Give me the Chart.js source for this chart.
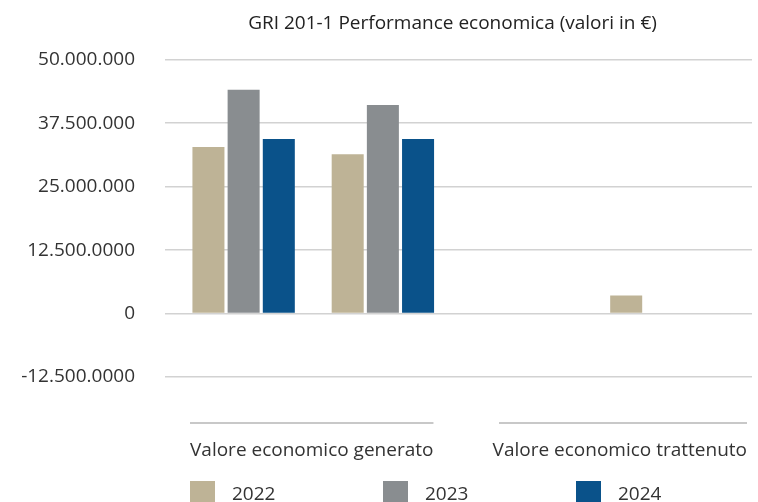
<!DOCTYPE html>
<html>
<head>
<meta charset="utf-8">
<script src="https://cdn.jsdelivr.net/npm/chart.js@4"></script>
<style>
  html, body { margin: 0; padding: 0; background: #fff; overflow: hidden; }
  #wrap { position: relative; width: 758px; height: 502px; }
  #chartBox { position: absolute; left: 0; top: 0; width: 758px; height: 502px; }
  #legend { position: absolute; left: 190px; top: 480px; margin: 0; padding: 0; list-style: none; display: flex; }
  #legend li { width: 193px; display: flex; align-items: center; font-family: 'Open Sans', sans-serif; font-size: 19px; color: #333; }
  #legend .box { display: inline-block; width: 25px; height: 25px; margin-right: 17px; }
</style>
</head>
<body>
<div id="wrap">
  <div id="chartBox"><canvas id="myChart"></canvas></div>
  <ul id="legend"></ul>
</div>
<script>
const categories = ['Valore economico generato', 'Valore economico distribuito', '', 'Valore economico trattenuto'];
const groupLabels = ['Valore economico generato', 'Valore economico trattenuto'];
const years = ['2022', '2023', '2024'];
const values2022 = [32800000, 31400000, null, 3560000];
const values2023 = [44100000, 41100000, null, null];
const values2024 = [34400000, 34400000, null, null];
const yTickValues = [50000000, 37500000, 25000000, 12500000, 0, -12500000];
const yTickLabels = ['50.000.000', '37.500.000', '25.000.000', '12.500.0000', '0', '-12.500.0000'];
const colors = ['#BEB396', '#898D90', '#0A528A'];

const gridColor = '#d2d2d2';
const labelFont = { family: "'Open Sans', sans-serif", size: 19 };

// grey line over each group label
const groupUnderline = {
  id: 'groupUnderline',
  afterDraw(chart) {
    const s = chart.scales.xGroups;
    const ctx = chart.ctx;
    ctx.save();
    ctx.font = labelFont.size + 'px ' + labelFont.family;
    ctx.strokeStyle = '#c8c8c8';
    ctx.lineWidth = 2;
    s.ticks.forEach((t, i) => {
      const w = Math.min(ctx.measureText(t.label).width, 248);
      const px = s.getPixelForTick(i) + s.options.ticks.labelOffset;
      const x0 = i === 0 ? px : px - w;
      ctx.beginPath();
      ctx.moveTo(x0, s.top + 46);
      ctx.lineTo(x0 + w, s.top + 46);
      ctx.stroke();
    });
    ctx.restore();
  }
};

const dataConfig = {
  labels: categories,
  datasets: [
    { label: years[0], data: values2022, backgroundColor: colors[0] },
    { label: years[1], data: values2023, backgroundColor: colors[1] },
    { label: years[2], data: values2024, backgroundColor: colors[2] }
  ]
};

const config = {
  type: 'bar',
  data: dataConfig,
  options: {
    responsive: true,
    maintainAspectRatio: false,
    animation: false,
    layout: { padding: { left: 0, right: 6, top: 0, bottom: 25 } },
    datasets: { bar: { categoryPercentage: 0.758, barPercentage: 0.91 } },
    plugins: {
      legend: { display: false },
      tooltip: { enabled: false },
      title: {
        display: true,
        fullSize: false,
        text: 'GRI 201-1 Performance economica (valori in €)',
        color: '#222',
        font: { family: "'Open Sans', sans-serif", size: 19, weight: 'normal' },
        padding: { top: 12, bottom: 25 }
      }
    },
    scales: {
      x: { display: false },
      xGroups: {
        type: 'category',
        axis: 'x',
        position: 'bottom',
        labels: groupLabels,
        offset: false,
        grid: { display: false },
        border: { display: false },
        ticks: { align: 'inner', labelOffset: 16, padding: 54, color: '#333', font: labelFont, maxRotation: 0, autoSkip: false },
        afterFit: (scale) => {
          scale.height = 100;
          scale.paddingLeft = 0;
          scale.paddingRight = 0;
        }
      },
      y: {
        min: -12500000,
        max: 50000000,
        afterFit: (scale) => { scale.width = 174; },
        grid: { color: gridColor, lineWidth: 1.5, tickLength: 9 },
        border: { display: false },
        ticks: {
          stepSize: 12500000,
          padding: 30,
          color: '#333',
          font: { family: "'Open Sans', sans-serif", size: 19 },
          callback: (v) => {
            const i = yTickValues.indexOf(v);
            return i >= 0 ? yTickLabels[i] : '';
          }
        }
      },
      yRight: {
        type: 'linear',
        position: 'right',
        min: -12500000,
        max: 50000000,
        afterFit: (scale) => { scale.width = 21; },
        grid: { drawOnChartArea: false, color: gridColor, lineWidth: 1.5, tickLength: 21 },
        border: { display: false },
        ticks: { display: false, stepSize: 12500000 }
      }
    }
  },
  plugins: [groupUnderline]
};

const chart = new Chart(
  document.getElementById('myChart'),
  config
);

function buildLegend(chart) {
  const list = document.getElementById('legend');
  chart.data.datasets.forEach((ds) => {
    const li = document.createElement('li');
    li.innerHTML = `<span class="box" style="background:${ds.backgroundColor}"></span><span>${ds.label}</span>`;
    list.appendChild(li);
  });
}

buildLegend(chart);
</script>
</body>
</html>
